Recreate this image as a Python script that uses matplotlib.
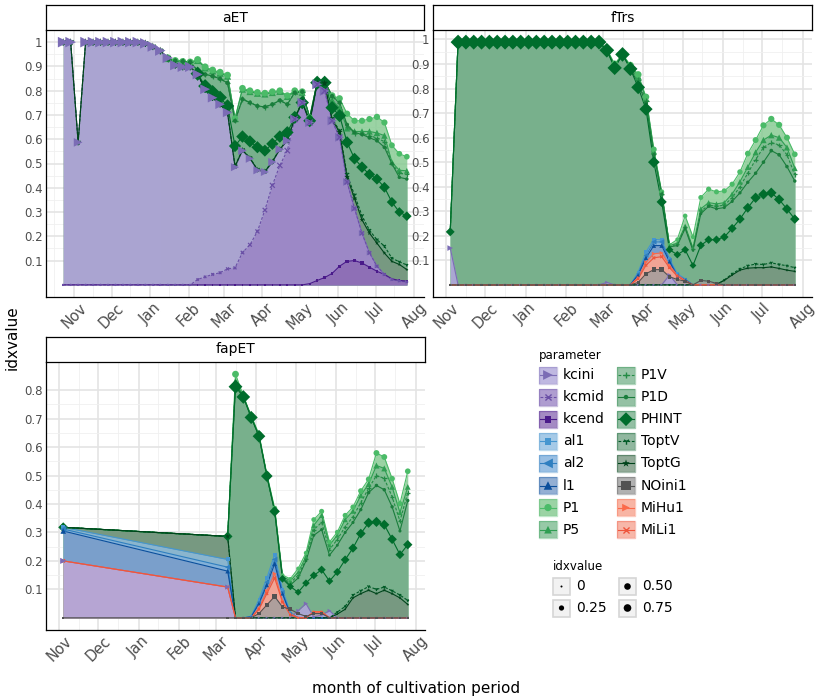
import numpy as np
import matplotlib
matplotlib.use("Agg")
import matplotlib.pyplot as plt
import matplotlib.dates as mdates
from matplotlib.patches import Rectangle

# sampling dates: every 6 days from 23 Oct
dates = np.datetime64("2016-10-23") + 6 * np.arange(47)
aet_idx = list(range(0, 47))
ftrs_idx = list(range(2, 47))
fap_idx = [2] + list(range(23, 47))

PARAMS = ["kcini", "kcmid", "kcend", "al1", "al2", "l1", "P1", "P5", "P1V", "P1D",
          "PHINT", "ToptV", "ToptG", "NOini1", "MiHu1", "MiLi1"]

# ---- aET ----
aet_head = [1.0, 1.0, 0.587, 1.0, 1.0, 1.0, 1.0, 1.0, 1.0, 1.0, 1.0, 0.995]
aet = {
    "kcini": aet_head + [0.982, 0.965, 0.935, 0.905, 0.898, 0.898, 0.867, 0.806, 0.771, 0.744, 0.71,
                         0.485, 0.553, 0.52, 0.472, 0.465, 0.506, 0.558, 0.594,
                         0.683, 0.751, 0.669, 0.826, 0.799, 0.676, 0.608, 0.424, 0.315, 0.213, 0.132,
                         0.077, 0.043, 0.022, 0.016, 0.012],
    "kcmid": [0.0] * 18 + [0.022, 0.033, 0.043, 0.05, 0.066, 0.07, 0.133, 0.165, 0.22, 0.308, 0.41,
                           0.492, 0.553, 0.683, 0.751, 0.669, 0.826, 0.799, 0.676, 0.608, 0.424, 0.315,
                           0.213, 0.132, 0.077, 0.043, 0.022, 0.016, 0.012],
    "kcend": [0.0] * 33 + [0.005, 0.018, 0.03, 0.047, 0.077, 0.097, 0.1, 0.09, 0.073, 0.056, 0.043,
                           0.025, 0.018, 0.016],
    "P1": [None] * 14 + [0.935, 0.924, 0.92, 0.918, 0.928, 0.898, 0.885, 0.876, 0.864,
                         0.686, 0.81, 0.8, 0.793, 0.79, 0.796, 0.8, 0.78,
                         0.8, 0.796, 0.69, 0.835, 0.838, 0.78, 0.768, 0.705, 0.676, 0.676, 0.683,
                         0.692, 0.669, 0.575, 0.54, 0.528],
    "P5": [None] * 14 + [0.933, 0.922, 0.918, 0.916, 0.925, 0.894, 0.882, 0.872, 0.86,
                         0.684, 0.806, 0.796, 0.789, 0.786, 0.792, 0.797, 0.776,
                         0.797, 0.793, 0.688, 0.834, 0.836, 0.76, 0.73, 0.645, 0.632, 0.632, 0.632,
                         0.626, 0.615, 0.506, 0.472, 0.47],
    "P1V": [None] * 13 + [0.965, 0.93, 0.924, 0.921, 0.918, 0.883, 0.867, 0.86, 0.849, 0.832,
                          0.676, 0.765, 0.751, 0.737, 0.733, 0.744, 0.76, 0.744,
                          0.792, 0.796, 0.69, 0.833, 0.84, 0.775, 0.75, 0.652, 0.625, 0.622, 0.615,
                          0.605, 0.59, 0.5, 0.46, 0.455],
    "P1D": [None] * 13 + [0.965, 0.93, 0.924, 0.921, 0.918, 0.883, 0.867, 0.86, 0.849, 0.832,
                          0.676, 0.765, 0.751, 0.737, 0.733, 0.744, 0.76, 0.744,
                          0.792, 0.796, 0.69, 0.833, 0.84, 0.778, 0.751, 0.66, 0.628, 0.62, 0.606,
                          0.594, 0.567, 0.499, 0.443, 0.436],
    "PHINT": [None] * 18 + [0.87, 0.819, 0.795, 0.772, 0.737,
                            0.572, 0.611, 0.591, 0.567, 0.553, 0.581, 0.611, 0.628,
                            0.69, 0.751, 0.676, 0.833, 0.833, 0.73, 0.697, 0.587, 0.52, 0.485, 0.455,
                            0.436, 0.402, 0.341, 0.3, 0.283],
    "ToptV": aet_head + [0.982, 0.965, 0.935, 0.905, 0.898, 0.898, 0.867, 0.806, 0.771, 0.744, 0.71,
                         0.49, 0.556, 0.523, 0.475, 0.468, 0.508, 0.56, 0.596,
                         0.69, 0.755, 0.676, 0.833, 0.833, 0.685, 0.635, 0.455, 0.37, 0.285, 0.225,
                         0.186, 0.16, 0.11, 0.095, 0.082],
    "ToptG": aet_head + [0.982, 0.965, 0.935, 0.905, 0.898, 0.898, 0.867, 0.806, 0.771, 0.744, 0.71,
                         0.488, 0.555, 0.522, 0.474, 0.467, 0.507, 0.559, 0.595,
                         0.686, 0.753, 0.672, 0.83, 0.83, 0.68, 0.63, 0.445, 0.356, 0.268, 0.213,
                         0.172, 0.131, 0.097, 0.084, 0.063],
}

# ---- fTrs ----
ftrs = {
    "kcini": [0.15] + [0.0] * 19 + [0.01] + [0.0] * 7 + [0.04] + [0.0] * 16,
    "al1": [0.0] * 24 + [0.052, 0.134, 0.185, 0.183, 0.107, 0.045, 0.025] + [0.0] * 14,
    "al2": [0.0] * 24 + [0.045, 0.12, 0.175, 0.175, 0.1, 0.04, 0.022] + [0.0] * 14,
    "l1": [0.0] * 24 + [0.04, 0.11, 0.16, 0.16, 0.095, 0.035, 0.02] + [0.0] * 14,
    "P1": [0.216] + [0.989] * 19 + [0.96, 0.9, 0.94, 0.895, 0.857, 0.766, 0.552, 0.379, 0.163, 0.185,
                                    0.281, 0.195, 0.356, 0.39, 0.379, 0.383, 0.41, 0.46, 0.535, 0.59,
                                    0.65, 0.676, 0.652, 0.6, 0.532],
    "P5": [0.216] + [0.989] * 19 + [0.958, 0.895, 0.94, 0.89, 0.85, 0.76, 0.545, 0.375, 0.16, 0.17,
                                    0.24, 0.15, 0.31, 0.335, 0.33, 0.335, 0.37, 0.42, 0.48, 0.54,
                                    0.59, 0.61, 0.6, 0.56, 0.475],
    "P1V": [0.216] + [0.989] * 19 + [0.957, 0.89, 0.94, 0.885, 0.835, 0.75, 0.535, 0.372, 0.158, 0.165,
                                     0.235, 0.145, 0.3, 0.325, 0.32, 0.325, 0.355, 0.4, 0.455, 0.51,
                                     0.56, 0.58, 0.57, 0.53, 0.45],
    "P1D": [0.216] + [0.989] * 19 + [0.956, 0.885, 0.939, 0.882, 0.82, 0.74, 0.53, 0.37, 0.155, 0.16,
                                     0.23, 0.14, 0.29, 0.32, 0.31, 0.315, 0.34, 0.375, 0.418, 0.455,
                                     0.5, 0.547, 0.53, 0.482, 0.423],
    "PHINT": [0.216] + [0.989] * 19 + [0.956, 0.884, 0.939, 0.88, 0.805, 0.716, 0.5, 0.338, 0.143, 0.123,
                                       0.143, 0.079, 0.161, 0.184, 0.184, 0.195, 0.23, 0.268, 0.314, 0.355,
                                       0.369, 0.375, 0.348, 0.309, 0.268],
    "ToptV": [0.0] * 35 + [0.02, 0.045, 0.065, 0.078, 0.085, 0.083, 0.09, 0.083, 0.078, 0.07],
    "ToptG": [0.0] * 34 + [0.003, 0.018, 0.04, 0.06, 0.068, 0.07, 0.07, 0.073, 0.067, 0.06, 0.055],
    "NOini1": [0.0] * 24 + [0.01, 0.045, 0.062, 0.062, 0.033, 0.022, 0.015, 0.0, 0.018, 0.015, 0.006]
              + [0.0] * 10,
    "MiHu1": [0.0] * 24 + [0.03, 0.093, 0.127, 0.13, 0.079, 0.04, 0.018] + [0.0] * 14,
    "MiLi1": [0.0] * 24 + [0.025, 0.08, 0.11, 0.115, 0.07, 0.035, 0.015] + [0.0] * 14,
}

# ---- fapET ----
fap = {
    "kcini": [0.2, 0.108, 0, 0, 0, 0, 0, 0, 0, 0, 0.025, 0.05, 0.003, 0.01, 0.025] + [0.0] * 10,
    "al1": [0.318, 0.205, 0, 0, 0.005, 0.065, 0.14, 0.222, 0.1, 0.02] + [0.0] * 15,
    "al2": [0.312, 0.178, 0, 0, 0.004, 0.055, 0.125, 0.205, 0.09, 0.015] + [0.0] * 15,
    "l1": [0.305, 0.164, 0, 0, 0.003, 0.05, 0.115, 0.19, 0.085, 0.012] + [0.0] * 15,
    "P1": [0.318, 0.286, 0.856, 0.78, 0.71, 0.645, 0.505, 0.385, 0.15, 0.137, 0.173, 0.228, 0.345,
           0.374, 0.266, 0.301, 0.36, 0.389, 0.446, 0.487, 0.579, 0.565, 0.489, 0.401, 0.515],
    "P5": [0.318, 0.286, 0.83, 0.778, 0.707, 0.64, 0.5, 0.378, 0.145, 0.13, 0.16, 0.215, 0.325,
           0.36, 0.255, 0.29, 0.345, 0.375, 0.43, 0.47, 0.535, 0.525, 0.46, 0.37, 0.46],
    "P1V": [0.318, 0.286, 0.825, 0.777, 0.706, 0.639, 0.499, 0.377, 0.142, 0.122, 0.15, 0.205, 0.31,
            0.335, 0.24, 0.275, 0.32, 0.355, 0.405, 0.455, 0.5, 0.49, 0.425, 0.34, 0.44],
    "P1D": [0.318, 0.286, 0.82, 0.777, 0.705, 0.639, 0.499, 0.376, 0.14, 0.115, 0.14, 0.2, 0.29,
            0.31, 0.22, 0.255, 0.3, 0.335, 0.38, 0.44, 0.465, 0.45, 0.39, 0.305, 0.412],
    "PHINT": [0.318, 0.286, 0.812, 0.776, 0.704, 0.638, 0.498, 0.374, 0.137, 0.11, 0.09, 0.122, 0.149,
              0.169, 0.129, 0.161, 0.204, 0.245, 0.296, 0.334, 0.337, 0.327, 0.276, 0.222, 0.257],
    "ToptV": [0.318, 0.286] + [0.0] * 13 + [0.02, 0.04, 0.08, 0.095, 0.11, 0.1, 0.108, 0.095, 0.08, 0.061],
    "ToptG": [0.318, 0.286] + [0.0] * 13 + [0.013, 0.03, 0.07, 0.085, 0.097, 0.085, 0.097, 0.085, 0.07, 0.047],
    "NOini1": [0, 0, 0, 0, 0, 0.015, 0.045, 0.075, 0.038, 0.03, 0.015, 0.005, 0.015, 0.015] + [0.0] * 11,
    "MiHu1": [0.2, 0.108, 0, 0, 0, 0.035, 0.095, 0.155, 0.06, 0.015, 0, 0, 0.022, 0.022] + [0.0] * 11,
    "MiLi1": [0.2, 0.108, 0, 0, 0, 0.03, 0.085, 0.14, 0.055, 0.01, 0, 0, 0.02, 0.02] + [0.0] * 11,
}

# ---- styles ----
line_col = {"kcini": "#7b6cb5", "kcmid": "#6a4fa6", "kcend": "#4a1a8a",
            "al1": "#4596d0", "al2": "#2f7fc0", "l1": "#0b4f9c",
            "P1": "#4bbb68", "P5": "#2f9e52", "P1V": "#238b45", "P1D": "#1a7d3c",
            "PHINT": "#006d2c", "ToptV": "#005a26", "ToptG": "#00441b",
            "NOini1": "#525252", "MiHu1": "#fb6a4a", "MiLi1": "#ef553c"}
fill_col = {"kcini": "#b0a6da", "kcmid": "#9b85c5", "kcend": "#8d6db5",
            "al1": "#90bde2", "al2": "#80b0dc", "l1": "#789bc8",
            "P1": "#82c98e", "P5": "#7dbc91", "P1V": "#7db691", "P1D": "#7ab28e",
            "PHINT": "#78b08c", "ToptV": "#76a587", "ToptG": "#789680",
            "NOini1": "#9e9e9e", "MiHu1": "#f7a38e", "MiLi1": "#f5a594"}
marker = {"kcini": ">", "kcmid": "x", "kcend": "s", "al1": "s", "al2": "<", "l1": "^",
          "P1": "o", "P5": "^", "P1V": "+", "P1D": "o", "PHINT": "D", "ToptV": "1",
          "ToptG": "*", "NOini1": "s", "MiHu1": ">", "MiLi1": "x"}
mscale = {"kcini": 1.25, "kcmid": 0.8, "kcend": 0.8, "al1": 0.8, "al2": 1.15, "l1": 1.0,
          "P1": 0.85, "P5": 0.9, "P1V": 0.7, "P1D": 0.55, "PHINT": 1.25, "ToptV": 0.85,
          "ToptG": 0.95, "NOini1": 1.2, "MiHu1": 0.9, "MiLi1": 0.7}
dashed = {"kcmid", "P1V", "ToptV"}
unfilled = {"x", "+", "1"}
purples = {"kcini", "kcmid", "kcend"}

AREA_ORDER = ["P1", "P5", "P1V", "P1D", "PHINT", "ToptV", "ToptG", "al1", "al2", "l1",
              "MiHu1", "MiLi1", "NOini1", "kcini", "kcmid", "kcend"]
LINE_ORDER = ["kcini", "kcmid", "kcend", "al1", "al2", "l1", "P1", "P5", "P1V", "P1D",
              "PHINT", "ToptV", "ToptG", "MiHu1", "MiLi1", "NOini1"]
POINT_ORDER = ["P5", "P1", "P1V", "P1D", "PHINT", "ToptV", "ToptG", "al1", "al2", "l1",
               "MiHu1", "MiLi1", "kcend", "kcini", "kcmid", "NOini1"]

W, H = 818, 700
fig = plt.figure(figsize=(W / 100, H / 100), dpi=100)
GRID = "#e4e4e4"
TXT = "#4d4d4d"


def px_axes(x0, y0, x1, y1, **kw):
    return fig.add_axes([x0 / W, 1 - y1 / H, (x1 - x0) / W, (y1 - y0) / H], **kw)


def pt_size(v, k):
    v = np.nan_to_num(np.asarray(v, float))
    d = (2.0 + 6.5 * np.sqrt(np.clip(v, 0, None))) * k
    return (d * 0.72) ** 2


def draw_panel(title, data, idx, box, strip, ymax_tick):
    x0, y0, x1, y1 = box
    ax = px_axes(x0, y0, x1, y1)
    x = mdates.date2num(dates[idx])
    ax.set_axisbelow(True)
    vals = {p: np.array([np.nan if v is None else v for v in data[p]], float) for p in data}

    for p in AREA_ORDER:
        if p in vals:
            ax.fill_between(x, 0, vals[p], color=fill_col[p],
                            alpha=0.9 if p in purples else 0.8, lw=0, zorder=2)
    for p in LINE_ORDER:
        if p in vals:
            ax.plot(x, vals[p], color=line_col[p], lw=0.8, zorder=3,
                    ls=(0, (2.5, 1.5)) if p in dashed else "-")
    for p in POINT_ORDER:
        if p in vals:
            v = vals[p]
            m = marker[p]
            if m in unfilled:
                ax.scatter(x, v, s=pt_size(v, mscale[p]), marker=m, color=line_col[p],
                           linewidths=0.9, zorder=4)
            else:
                ax.scatter(x, v, s=pt_size(v, mscale[p]), marker=m, color=line_col[p],
                           edgecolors="none", zorder=4)

    vmax = max(np.nanmax(v) for v in vals.values())
    pad = 0.05 * vmax
    ax.set_ylim(-pad, vmax + pad)
    span = x[-1] - x[0]
    ax.set_xlim(x[0] - 0.05 * span, x[-1] + 0.05 * span)

    yt = np.round(np.arange(0.1, ymax_tick + 0.001, 0.1), 1)
    ax.set_yticks(yt)
    ax.set_yticklabels(["1" if t == 1 else f"{t:g}" for t in yt], color=TXT, fontsize=8.5)
    ax.set_yticks(yt[:-1] + 0.05, minor=True)
    ax.xaxis_date()
    ax.xaxis.set_major_locator(mdates.MonthLocator())
    ax.xaxis.set_major_formatter(mdates.DateFormatter("%b"))
    ax.xaxis.set_minor_locator(mdates.MonthLocator(bymonthday=16))
    for lab in ax.get_xticklabels():
        lab.set_rotation(45)
        lab.set_ha("center")
        lab.set_va("top")
        lab.set_color(TXT)
        lab.set_fontsize(10.5)
    ax.tick_params(axis="both", which="both", length=0, pad=2.5)
    ax.grid(which="major", color=GRID, lw=1.2)
    ax.grid(which="minor", color="#f0f0f0", lw=0.6)
    for s in ("top", "right"):
        ax.spines[s].set_visible(False)
    for s in ("left", "bottom"):
        ax.spines[s].set_color("black")
        ax.spines[s].set_linewidth(0.9)

    sx = px_axes(x0, strip[0], x1, strip[1])
    sx.set_xticks([])
    sx.set_yticks([])
    for s in sx.spines.values():
        s.set_linewidth(0.9)
    sx.text(0.5, 0.5, title, ha="center", va="center", fontsize=10, transform=sx.transAxes)
    return ax


draw_panel("aET", aet, aet_idx, (46, 30, 424, 297), (5, 30), 1.0)
draw_panel("fTrs", ftrs, ftrs_idx, (433, 30, 812, 297), (5, 30), 1.0)
draw_panel("fapET", fap, fap_idx, (46, 362, 425, 630), (337, 362), 0.8)

fig.text(416 / W, 1 - 689 / H, "month of cultivation period", ha="center", va="center", fontsize=11)
fig.text(12 / W, 1 - 338 / H, "idxvalue", ha="center", va="center", rotation=90, fontsize=11)

# ---- legends ----
lax = fig.add_axes([0, 0, 1, 1], zorder=10)
lax.set_xlim(0, W)
lax.set_ylim(H, 0)
lax.axis("off")
lax.patch.set_alpha(0)

lax.text(539, 356, "parameter", fontsize=8.5, va="center", ha="left")
for i, p in enumerate(PARAMS):
    col, row = divmod(i, 8)
    kx = 539 + 78 * col
    ky = 375 + 22.1 * row
    lax.add_patch(Rectangle((kx, ky - 8.5), 18, 17, facecolor=fill_col[p], alpha=0.8,
                            edgecolor="none"))
    lax.add_patch(Rectangle((kx, ky - 8.5), 18, 17, facecolor="none",
                            edgecolor=line_col[p], alpha=0.35, lw=1))
    lax.plot([kx + 1, kx + 17], [ky, ky], color=line_col[p], lw=0.8,
             ls=(0, (2.5, 1.5)) if p in dashed else "-")
    m = marker[p]
    ks = (8.5 * min(max(mscale[p], 0.8), 1.15) * 0.72) ** 2
    if p == "P1D":
        ks = (4.5 * 0.72) ** 2
    if m in unfilled:
        lax.scatter([kx + 9], [ky], s=ks * 0.8, marker=m, color=line_col[p], linewidths=1.0)
    else:
        lax.scatter([kx + 9], [ky], s=ks, marker=m, color=line_col[p], edgecolors="none")
    lax.text(kx + 24, ky, p, fontsize=10, va="center", ha="left")

size_vals = [0, 0.25, 0.5, 0.75]
size_labels = ["0", "0.25", "0.50", "0.75"]
lax.text(553, 567, "idxvalue", fontsize=8.5, va="center", ha="left")
for i, (v, lab) in enumerate(zip(size_vals, size_labels)):
    col, row = divmod(i, 2)
    kx = 553 + 66 * col
    ky = 586.5 + 21.5 * row
    lax.add_patch(Rectangle((kx, ky - 8.5), 17, 17, facecolor="#f2f2f2", edgecolor="#d6d6d6", lw=1.2))
    lax.scatter([kx + 8.5], [ky], s=pt_size(v, 1.0), marker="o", color="black", edgecolors="none")
    lax.text(kx + 23, ky, lab, fontsize=10, va="center", ha="left")

fig.savefig("out.png", dpi=100)
